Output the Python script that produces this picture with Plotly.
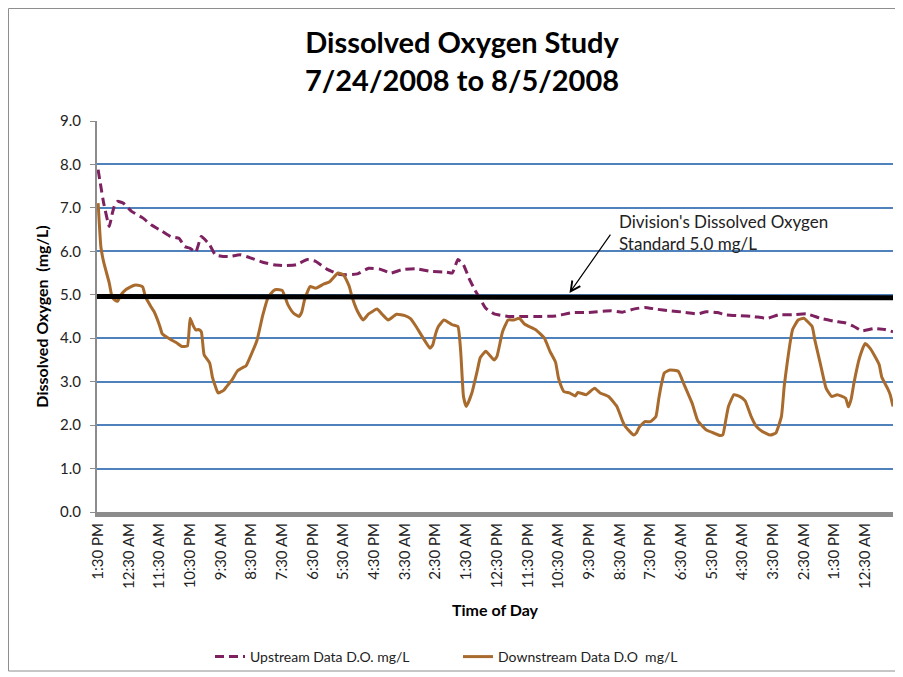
import plotly.graph_objects as go

# ---- data ----
tick_labels = ["1:30 PM", "12:30 AM", "11:30 AM", "10:30 PM", "9:30 AM", "8:30 PM",
               "7:30 AM", "6:30 PM", "5:30 AM", "4:30 PM", "3:30 AM", "2:30 PM",
               "1:30 AM", "12:30 PM", "11:30 PM", "10:30 AM", "9:30 PM", "8:30 AM",
               "7:30 PM", "6:30 AM", "5:30 PM", "4:30 AM", "3:30 PM", "2:30 AM",
               "1:30 PM", "12:30 AM"]
tick_hours = [i * 11 for i in range(len(tick_labels))]

up_hours = [0, 2, 4, 5, 6, 7, 9, 12, 16, 19, 23, 26, 29, 31, 33, 35, 37, 40, 42, 45,
            47, 51, 55, 59, 63, 67, 71, 75, 78, 82, 86, 89, 93, 97, 101, 105, 109,
            114, 119, 125, 127, 129, 131, 133, 135, 137, 139, 142, 147, 152, 158, 164,
            170, 175, 179, 184, 188, 192, 196, 200, 205, 210, 215, 218, 222, 225, 230,
            235, 240, 244, 249, 254, 259, 264, 268, 271, 274, 278, 282, 285]
up_values = [7.88, 7.11, 6.57, 6.85, 7.08, 7.15, 7.11, 6.92, 6.77, 6.61, 6.46, 6.34,
             6.30, 6.11, 6.07, 5.98, 6.34, 6.15, 5.92, 5.88, 5.88, 5.92, 5.84, 5.75,
             5.69, 5.67, 5.69, 5.81, 5.77, 5.59, 5.48, 5.46, 5.48, 5.61, 5.59, 5.50,
             5.58, 5.60, 5.54, 5.52, 5.50, 5.81, 5.69, 5.38, 5.12, 4.90, 4.69, 4.56,
             4.50, 4.50, 4.50, 4.51, 4.59, 4.59, 4.61, 4.63, 4.60, 4.67, 4.71, 4.67,
             4.63, 4.60, 4.56, 4.61, 4.59, 4.54, 4.52, 4.50, 4.46, 4.54, 4.54, 4.56,
             4.46, 4.39, 4.35, 4.27, 4.17, 4.22, 4.20, 4.15]

down_hours = [0, 1, 2, 4, 5, 6, 7, 8, 10, 13, 15, 16, 17, 19, 20, 22, 23, 24, 26, 28,
              30, 32, 33, 34, 35, 36, 37, 38, 40, 41, 42, 43, 45, 46, 48, 50, 52, 53,
              55, 57, 59, 61, 63, 64, 66, 68, 70, 72, 73, 74, 76, 78, 81, 83, 86, 88,
              90, 91, 93, 95, 97, 100, 102, 104, 107, 110, 112, 114, 116, 119, 120, 121,
              122, 124, 127, 129, 130, 131, 132, 134, 136, 137, 139, 142, 143, 145, 147,
              149, 151, 153, 157, 160, 162, 164, 165, 166, 167, 169, 171, 172, 175, 178,
              180, 183, 186, 188, 189, 192, 193, 194, 196, 198, 200, 201, 202, 203, 205,
              208, 210, 213, 215, 218, 221, 223, 224, 225, 226, 228, 230, 232, 234, 236,
              238, 241, 243, 245, 246, 247, 248, 249, 251, 253, 256, 257, 259, 261, 263,
              265, 268, 269, 270, 271, 273, 275, 277, 280, 281, 283, 284, 285]
down_values = [7.11, 6.10, 5.75, 5.27, 4.95, 4.88, 4.85, 4.98, 5.12, 5.22, 5.21, 5.18,
               4.95, 4.72, 4.62, 4.30, 4.10, 4.05, 3.97, 3.90, 3.81, 3.82, 4.46, 4.30,
               4.19, 4.20, 4.15, 3.62, 3.43, 3.10, 2.90, 2.74, 2.80, 2.88, 3.04, 3.25,
               3.33, 3.36, 3.64, 3.96, 4.52, 4.95, 5.10, 5.12, 5.10, 4.78, 4.58, 4.50,
               4.60, 4.88, 5.19, 5.15, 5.25, 5.30, 5.50, 5.46, 5.20, 4.96, 4.62, 4.42,
               4.56, 4.67, 4.54, 4.42, 4.55, 4.52, 4.45, 4.27, 4.06, 3.77, 3.85, 4.10,
               4.27, 4.42, 4.31, 4.27, 3.70, 2.66, 2.43, 2.74, 3.27, 3.55, 3.70, 3.50,
               3.58, 4.15, 4.42, 4.42, 4.46, 4.32, 4.19, 4.00, 3.70, 3.45, 3.10, 2.90,
               2.77, 2.74, 2.67, 2.75, 2.70, 2.85, 2.74, 2.66, 2.43, 2.10, 1.97, 1.77,
               1.82, 1.95, 2.08, 2.08, 2.20, 2.60, 2.95, 3.20, 3.27, 3.24, 2.95, 2.50,
               2.10, 1.89, 1.81, 1.76, 1.78, 2.10, 2.43, 2.70, 2.66, 2.56, 2.22, 1.97,
               1.86, 1.77, 1.82, 2.20, 2.90, 3.40, 3.85, 4.20, 4.42, 4.46, 4.27, 3.95,
               3.40, 2.85, 2.66, 2.70, 2.62, 2.42, 2.60, 2.97, 3.55, 3.88, 3.75, 3.40,
               3.10, 2.85, 2.70, 2.43]

standard_level = [4.96, 4.93]

# ---- layout helpers ----
# The page body adds an 8px offset, so the figure is sized to fit the window
# and positions below are given in screen pixels, then converted.
OFF = 8
W, H = 903 - OFF, 677 - OFF
SL, SR, ST, SB = 97, 893, 121, 512          # plot area in screen pixels
L, T = SL - OFF, ST - OFF
R, B = W - (SR - OFF), H - (SB - OFF)
PW, PH = SR - SL, SB - ST


def px(x):
    return (x - SL) / PW


def py(y):
    return (SB - y) / PH


FONT = "Lato"
UP_COLOR = "#7E2160"
DOWN_COLOR = "#A86B2D"

fig = go.Figure()
fig.add_trace(go.Scatter(x=up_hours, y=up_values, mode="lines",
                         name="Upstream Data D.O. mg/L",
                         line=dict(color=UP_COLOR, width=3, dash="9px,5px",
                                   shape="spline", smoothing=0.4)))
fig.add_trace(go.Scatter(x=down_hours, y=down_values, mode="lines",
                         name="Downstream Data D.O  mg/L",
                         line=dict(color=DOWN_COLOR, width=3,
                                   shape="spline", smoothing=0.4)))

shapes = [
    dict(type="line", xref="paper", yref="y", x0=0, x1=1,
         y0=standard_level[0], y1=standard_level[1],
         line=dict(color="black", width=5), layer="above"),
    dict(type="rect", xref="paper", yref="paper", x0=px(OFF + 0.5), x1=px(899),
         y0=py(671), y1=py(OFF + 0.5), line=dict(color="#8E8E8E", width=1)),
]

annotations = [
    dict(xref="x", yref="y", x=169, y=5.04, ax=42, ay=-60, text="",
         showarrow=True, arrowhead=5, arrowsize=1.6, arrowwidth=1.2,
         arrowcolor="black", standoff=0),
    dict(xref="paper", yref="paper", x=px(617), y=py(232), xanchor="left",
         yanchor="middle", align="left", showarrow=False,
         text="Division's Dissolved Oxygen<br>Standard 5.0 mg/L",
         font=dict(family=FONT, size=17, color="#222")),
]

fig.update_layout(
    width=W, height=H,
    margin=dict(l=L, r=R, t=T, b=B, autoexpand=False),
    paper_bgcolor="white", plot_bgcolor="white",
    font=dict(family=FONT, size=13, color="#222"),
    title=dict(text="<b>Dissolved Oxygen Study<br>7/24/2008 to 8/5/2008</b>",
               xref="container", x=(462 - OFF) / W, xanchor="center",
               yref="container", y=1 - (61 - 2 * OFF) / H, yanchor="middle",
               font=dict(family=FONT, size=29, color="black")),
    showlegend=True,
    legend=dict(orientation="h", x=px(210), xanchor="left", y=py(657),
                yanchor="middle", entrywidth=203, entrywidthmode="pixels",
                font=dict(family=FONT, size=14, color="#222"),
                bgcolor="rgba(0,0,0,0)"),
    shapes=shapes, annotations=annotations,
)

fig.update_xaxes(range=[-0.4, 285], tickmode="array", tickvals=tick_hours,
                 ticktext=tick_labels, tickangle=-90, showgrid=False,
                 zeroline=False, showline=True, linecolor="#8C8C8C", linewidth=5,
                 ticks="", tickfont=dict(family=FONT, size=15, color="#222"),
                 title=dict(text="<b>Time of Day</b>", standoff=18,
                            font=dict(family=FONT, size=16, color="black")))
fig.update_yaxes(range=[0, 9], dtick=1, tickformat=".1f", showgrid=True,
                 gridcolor="#4F81BD", gridwidth=1.5, zeroline=False,
                 showline=True, linecolor="#8C8C8C", linewidth=2,
                 ticks="outside", ticklen=5, tickcolor="#8C8C8C",
                 ticklabelstandoff=6,
                 tickfont=dict(family=FONT, size=15, color="#222"),
                 title=dict(text="<b>Dissolved Oxygen  (mg/L)</b>", standoff=7,
                            font=dict(family=FONT, size=16, color="black")))

fig.write_html("out.html")
